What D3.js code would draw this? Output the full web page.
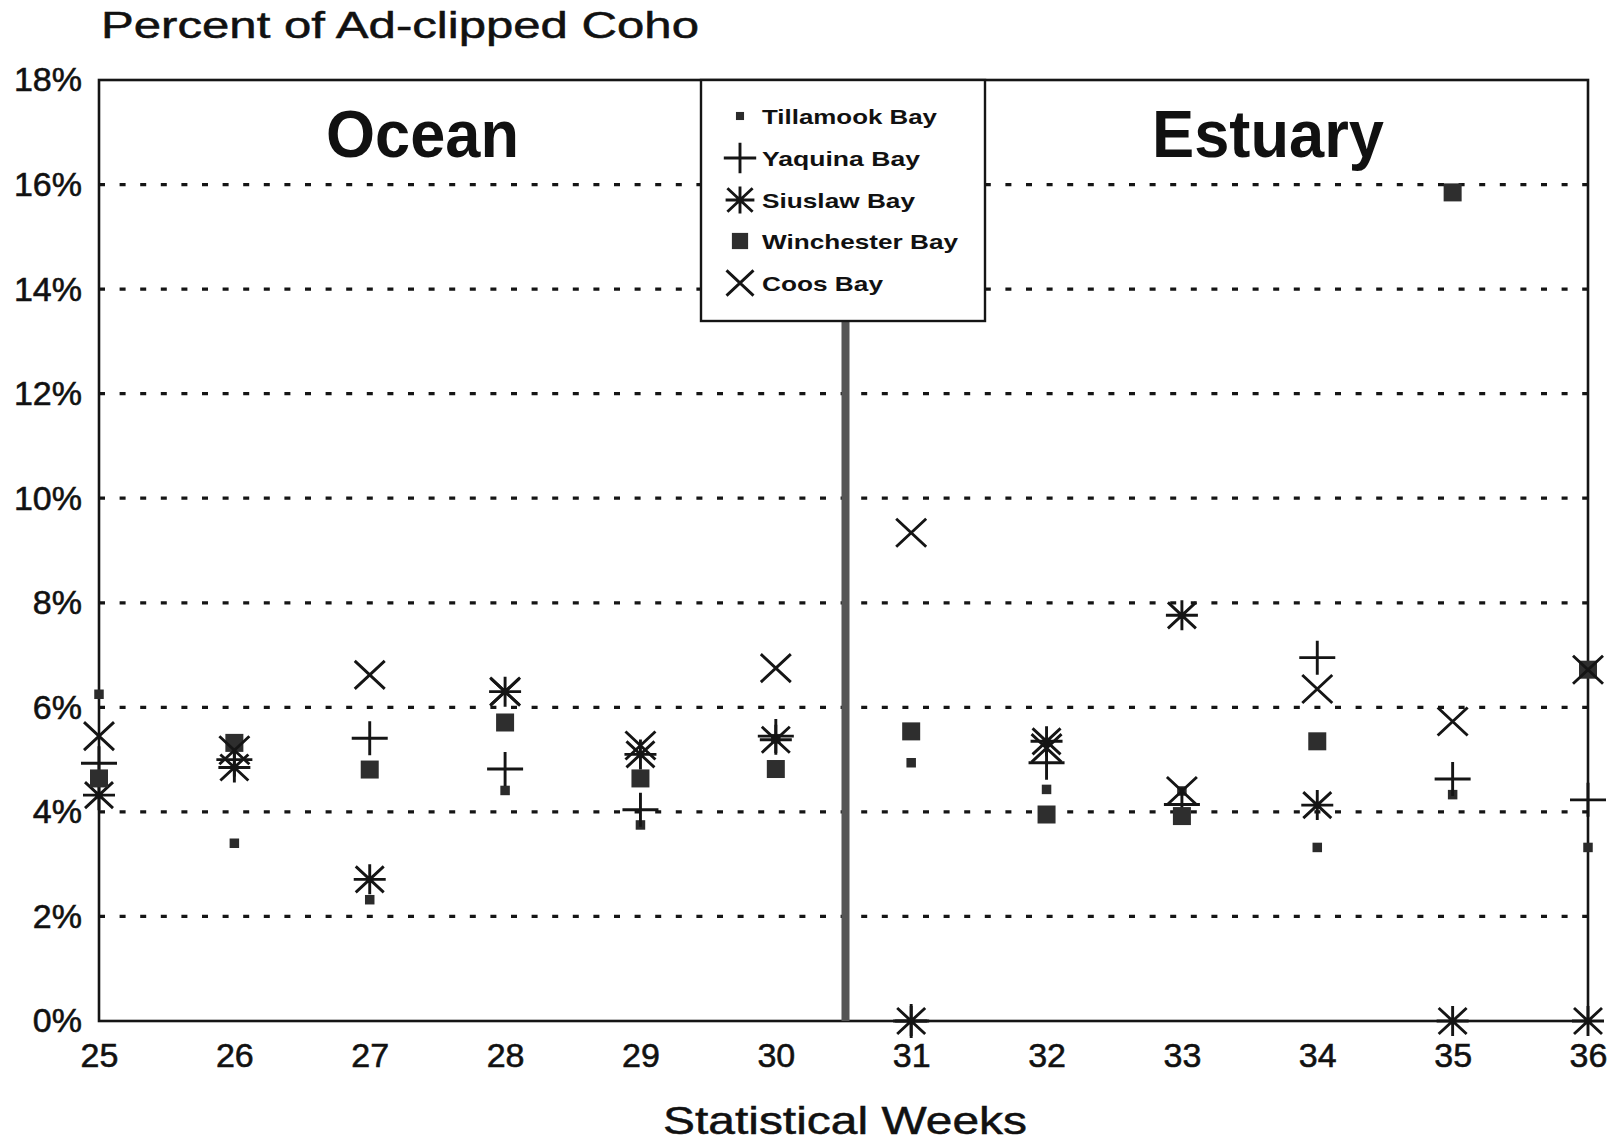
<!DOCTYPE html>
<html><head><meta charset="utf-8">
<script src="https://cdn.jsdelivr.net/npm/d3@7"></script>
<style>
html,body{margin:0;padding:0;background:#fff;}
svg{display:block;}
text{font-family:"Liberation Sans",Arial,Helvetica,sans-serif;fill:#111;}
</style></head>
<body>
<svg id="chart" width="1617" height="1143"></svg>
<script>
// ---- data ----
const weeks = [25,26,27,28,29,30,31,32,33,34,35,36];
const tillamook  = [6.25,3.40,2.32,4.41,3.75,5.40,4.94,4.43,4.40,3.32,4.33,3.32];
const yaquina    = [4.93,5.00,5.41,4.82,4.04,5.45,0.00,4.94,4.14,6.95,4.63,4.23];
const siuslaw    = [4.32,4.85,2.71,6.30,5.10,5.38,0.00,5.35,7.76,4.13,0.00,0.00];
const winchester = [4.64,5.32,4.81,5.71,4.64,4.82,5.54,3.95,3.92,5.35,15.85,6.72];
const coos       = [5.45,5.18,6.62,6.30,5.27,6.75,9.34,5.22,4.40,6.35,5.73,6.72];
const yTicks = [0,2,4,6,8,10,12,14,16,18];
const seriesNames = ["Tillamook Bay","Yaquina Bay","Siuslaw Bay","Winchester Bay","Coos Bay"];
const seriesKinds = ["smallSquare","plus","asterisk","square","cross"];
const seriesData = [tillamook,yaquina,siuslaw,winchester,coos];

// ---- layout ----
const svg = d3.select("#chart");
const X0=99, X1=1588, Y0=1021, Y1=80;
const x = d3.scaleLinear().domain([25,36]).range([X0,X1]);
const y = d3.scaleLinear().domain([0,18]).range([Y0,Y1]);
const ink = "#151515";

// gridlines (dotted)
svg.append("g").selectAll("line").data(yTicks.filter(t=>t>0&&t<18)).join("line")
  .attr("x1",X0).attr("x2",X1).attr("y1",d=>y(d)).attr("y2",d=>y(d))
  .attr("stroke",ink).attr("stroke-width",3.2).attr("stroke-dasharray","6,14.6");

// frame
svg.append("rect").attr("x",X0).attr("y",Y1).attr("width",X1-X0).attr("height",Y0-Y1)
  .attr("fill","none").attr("stroke",ink).attr("stroke-width",2.6);

// legend box geometry
const LX0=701, LX1=985, LY0=80, LY1=321;

// divider between Ocean and Estuary
svg.append("line").attr("x1",x(30.5)+2).attr("x2",x(30.5)+2).attr("y1",LY1).attr("y2",Y0)
  .attr("stroke","#555").attr("stroke-width",8);

const tickStyle = sel => sel.style("font-size","34px")
  .style("font-family","\"Liberation Sans\",Arial,sans-serif")
  .attr("fill",ink).attr("stroke",ink).attr("stroke-width",0.6);

// y axis labels
const yAxis = d3.axisLeft(y).tickValues(yTicks).tickSize(0).tickPadding(17)
  .tickFormat(d=>d+"%");
const gy = svg.append("g").attr("transform",`translate(${X0},0)`).call(yAxis);
gy.select(".domain").remove();
tickStyle(gy.selectAll("text"));

// x axis labels
const xAxis = d3.axisBottom(x).tickValues(weeks).tickSize(0).tickPadding(22)
  .tickFormat(d3.format("d"));
const gx = svg.append("g").attr("transform",`translate(0,${Y0})`).call(xAxis);
gx.select(".domain").remove();
tickStyle(gx.selectAll("text"));

// marker drawing
function drawMarker(g, kind, cx, cy, scale=1){
  const sw = 2.9;
  if(kind==="smallSquare"){
    const s=9.5*scale;
    g.append("rect").attr("x",cx-s/2).attr("y",cy-s/2).attr("width",s).attr("height",s).attr("fill","#2b2b2b");
  } else if(kind==="square"){
    const s=18*scale;
    g.append("rect").attr("x",cx-s/2).attr("y",cy-s/2).attr("width",s).attr("height",s).attr("fill","#2e2e2e");
  } else if(kind==="plus"){
    const h=18*scale, v=17*scale;
    const p=d3.path(); p.moveTo(cx-h,cy); p.lineTo(cx+h,cy); p.moveTo(cx,cy-v); p.lineTo(cx,cy+v);
    g.append("path").attr("d",p.toString()).attr("stroke",ink).attr("stroke-width",sw).attr("fill","none");
  } else if(kind==="cross"){
    const a=15*scale, b=14*scale;
    const p=d3.path(); p.moveTo(cx-a,cy-b); p.lineTo(cx+a,cy+b); p.moveTo(cx+a,cy-b); p.lineTo(cx-a,cy+b);
    g.append("path").attr("d",p.toString()).attr("stroke",ink).attr("stroke-width",sw).attr("fill","none");
  } else if(kind==="asterisk"){
    const h=16*scale, v=15*scale, da=14*scale, db=13*scale;
    const p=d3.path();
    p.moveTo(cx-h,cy); p.lineTo(cx+h,cy);
    p.moveTo(cx,cy-v); p.lineTo(cx,cy+v);
    p.moveTo(cx-da,cy-db); p.lineTo(cx+da,cy+db);
    p.moveTo(cx+da,cy-db); p.lineTo(cx-da,cy+db);
    g.append("path").attr("d",p.toString()).attr("stroke",ink).attr("stroke-width",sw).attr("fill","none");
  }
}

// points
const gp = svg.append("g");
seriesData.forEach((arr,si)=>{
  arr.forEach((v,i)=>{
    if(v==null) return;
    drawMarker(gp, seriesKinds[si], x(weeks[i]), y(v));
  });
});

// legend
const gl = svg.append("g");
gl.append("rect").attr("x",LX0).attr("y",LY0).attr("width",LX1-LX0).attr("height",LY1-LY0)
  .attr("fill","#fff").attr("stroke",ink).attr("stroke-width",2.4);
const legRowY = [116,158,200,241,283];
const legLens = [175,158,153,196,121];
seriesNames.forEach((n,i)=>{
  drawMarker(gl, seriesKinds[i], 740, legRowY[i], seriesKinds[i]==="smallSquare"?0.85:0.9);
  gl.append("text").attr("x",762).attr("y",legRowY[i]).attr("dy","0.36em")
    .attr("textLength",legLens[i]).attr("lengthAdjust","spacingAndGlyphs")
    .style("font-size","21px").style("font-weight","bold").text(n);
});

// titles
svg.append("text").attr("x",101).attr("y",38).attr("textLength",598).attr("lengthAdjust","spacingAndGlyphs")
  .attr("stroke","#111").attr("stroke-width",0.5)
  .style("font-size","37px").text("Percent of Ad-clipped Coho");
svg.append("text").attr("x",326).attr("y",157).attr("textLength",193).attr("lengthAdjust","spacingAndGlyphs")
  .style("font-size","66px").style("font-weight","bold").text("Ocean");
svg.append("text").attr("x",1152).attr("y",157).attr("textLength",232).attr("lengthAdjust","spacingAndGlyphs")
  .style("font-size","66px").style("font-weight","bold").text("Estuary");
svg.append("text").attr("x",663).attr("y",1134).attr("textLength",364).attr("lengthAdjust","spacingAndGlyphs")
  .attr("stroke","#111").attr("stroke-width",0.5)
  .style("font-size","39px").text("Statistical Weeks");
</script>
</body></html>
